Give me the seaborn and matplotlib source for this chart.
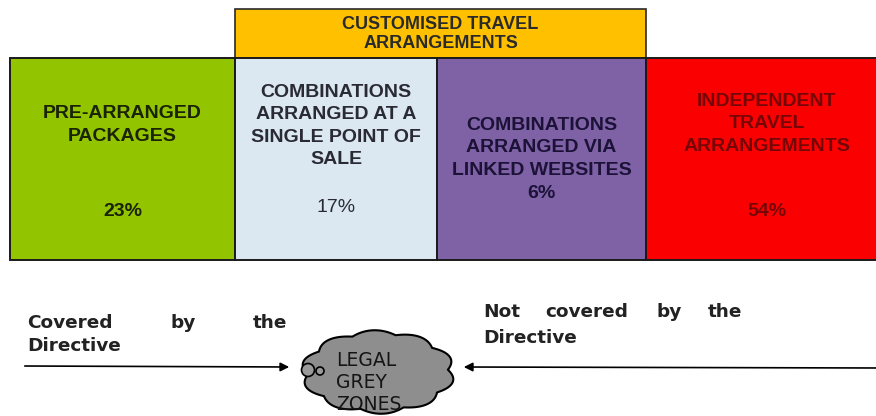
import numpy as np
import matplotlib
matplotlib.use("Agg")
import matplotlib.pyplot as plt
import seaborn as sns

# data
categories = ["PRE-ARRANGED\nPACKAGES",
              "COMBINATIONS\nARRANGED AT A\nSINGLE POINT OF\nSALE",
              "COMBINATIONS\nARRANGED VIA\nLINKED WEBSITES",
              "INDEPENDENT\nTRAVEL\nARRANGEMENTS"]
shares = [23, 17, 6, 54]
group_label = "CUSTOMISED TRAVEL\nARRANGEMENTS"
left_caption = ["Covered", "by", "the"]
right_caption = ["Not", "covered", "by", "the"]
cloud_lines = ["LEGAL", "GREY", "ZONES"]

# layout / styles (pixels)
box_left = [10, 235, 437, 646]
box_width = [225, 202, 209, 236]
box_colors = ["#92c400", "#dbe8f1", "#7e62a5", "#fb0000"]
text_colors = ["#1a2304", "#2a2a34", "#1c1238", "#760606"]
label_y = [125, 126, 148, 124]
pct_y = [212, 207, 193, 212]

sns.set_theme(style="white")
fig = plt.figure(figsize=(8.76, 4.16), dpi=100)
ax = fig.add_axes([0, 0, 1, 1])
ax.set_xlim(0, 876)
ax.set_ylim(416, 0)
ax.axis("off")

box_font = "Liberation Sans"

# orange header over the two combination boxes
ax.bar(box_left[1], 58 - 9, width=box_left[3] - box_left[1], bottom=9, align="edge",
       color="#ffc000", edgecolor="#2a2a2a", linewidth=1.2)
ax.text((box_left[1] + box_left[3]) / 2, 34, group_label, ha="center", va="center",
        fontsize=13, fontweight="bold", family=box_font, color="#2a2a2a", linespacing=1.2)

# main boxes
ax.bar(box_left, [202] * 4, width=box_width, bottom=58, align="edge",
       color=box_colors, edgecolor="#1a1a1a", linewidth=1.4)
for i, (lab, s) in enumerate(zip(categories, shares)):
    cx = box_left[i] + box_width[i] / 2 if i < 3 else 767
    ax.text(cx, label_y[i], lab, ha="center", va="center", fontsize=14,
            fontweight="bold", family=box_font, color=text_colors[i], linespacing=1.42)
    ax.text(cx, pct_y[i], f"{s}%", ha="center", va="center", fontsize=14,
            fontweight="bold" if i != 1 else "normal", family=box_font, color=text_colors[i])

# bottom captions
cap_font = "DejaVu Sans"
cap_size = 13.3
for w, x in zip(left_caption, [27, 170, 253]):
    ax.text(x, 323, w, ha="left", va="center", fontsize=cap_size, fontweight="bold",
            family=cap_font, color="#222222")
ax.text(27, 346, "Directive", ha="left", va="center", fontsize=cap_size, fontweight="bold",
        family=cap_font, color="#222222")
for w, x in zip(right_caption, [483, 545, 657, 708]):
    ax.text(x, 312, w, ha="left", va="center", fontsize=cap_size, fontweight="bold",
            family=cap_font, color="#222222")
ax.text(483, 338, "Directive", ha="left", va="center", fontsize=cap_size, fontweight="bold",
        family=cap_font, color="#222222")

# arrows
ax.annotate("", xy=(292, 367), xytext=(22, 366),
            arrowprops=dict(arrowstyle="-|>", color="black", lw=1.2, mutation_scale=13))
ax.annotate("", xy=(461, 367), xytext=(880, 368),
            arrowprops=dict(arrowstyle="-|>", color="black", lw=1.2, mutation_scale=13))

# cloud
t = np.linspace(0, 2 * np.pi, 800)
r = 1 + 0.1 * np.abs(np.sin(5 * t + 0.3))
ax.fill(378 + 70 * r * np.cos(t), 372 + 38 * r * np.sin(t),
        facecolor="#8e8e8e", edgecolor="black", linewidth=1.5, zorder=3)
for (cx, cy, rr) in [(308, 370, 6.5), (320, 371, 4)]:
    ax.add_patch(plt.Circle((cx, cy), rr, facecolor="#9a9a9a", edgecolor="black",
                            linewidth=1.2, zorder=4))
for line, y in zip(cloud_lines, [360, 382, 404]):
    ax.text(336, y, line, ha="left", va="center", fontsize=13.5, family=cap_font,
            color="#151515", zorder=5)

fig.savefig("out.png", dpi=100)
